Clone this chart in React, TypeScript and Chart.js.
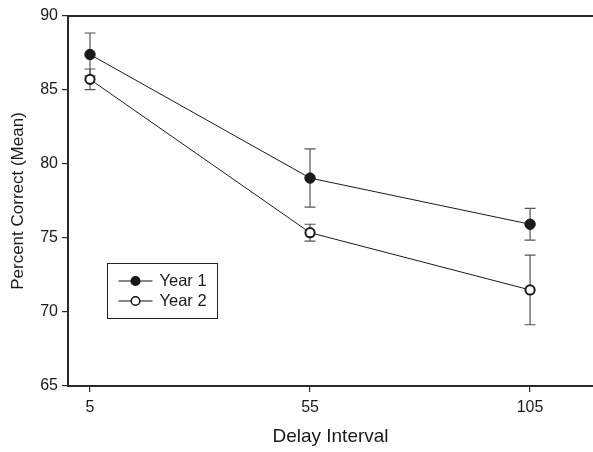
import React, { useEffect, useRef } from "react";
import { Chart, registerables } from "chart.js";

Chart.register(...registerables);

const delays = [5, 55, 105];
const xTickValues = [5, 55, 105];
const yTickValues = [65, 70, 75, 80, 85, 90];
const year1Mean = [87.4, 79.05, 75.93];
const year1Err = [1.45, 1.97, 1.07];
const year2Mean = [85.72, 75.36, 71.49];
const year2Err = [0.7, 0.57, 2.35];
const seriesNames = ["Year 1", "Year 2"];

const FONT = "Arial, 'Liberation Sans', Helvetica, sans-serif";

const errorBarPlugin = {
  id: "errorBars",
  beforeDatasetsDraw(chart: any) {
    const ctx = chart.ctx;
    const xs = chart.scales.x;
    const ys = chart.scales.y;
    const errs = [year1Err, year2Err];
    const means = [year1Mean, year2Mean];
    ctx.save();
    ctx.strokeStyle = "#555";
    ctx.lineWidth = 1.2;
    for (let s = 0; s < 2; s++) {
      for (let i = 0; i < delays.length; i++) {
        const x = xs.getPixelForValue(delays[i]);
        const yt = ys.getPixelForValue(means[s][i] + errs[s][i]);
        const yb = ys.getPixelForValue(means[s][i] - errs[s][i]);
        ctx.beginPath();
        ctx.moveTo(x, yt);
        ctx.lineTo(x, yb);
        ctx.moveTo(x - 5.5, yt);
        ctx.lineTo(x + 5.5, yt);
        ctx.moveTo(x - 5.5, yb);
        ctx.lineTo(x + 5.5, yb);
        ctx.stroke();
      }
    }
    ctx.restore();
  },
  afterDraw(chart: any) {
    const ctx = chart.ctx;
    const a = chart.chartArea;
    ctx.save();
    // top frame line
    ctx.strokeStyle = "#2a2a2a";
    ctx.lineWidth = 2;
    ctx.beginPath();
    ctx.moveTo(a.left, a.top);
    ctx.lineTo(chart.width, a.top);
    ctx.stroke();

    // legend box
    const bx = a.left + 39.5;
    const by = a.top + 247.5;
    const bw = 110;
    const bh = 55;
    ctx.lineWidth = 1;
    ctx.strokeStyle = "#222";
    ctx.fillStyle = "#fff";
    ctx.fillRect(bx, by, bw, bh);
    ctx.strokeRect(bx, by, bw, bh);
    const rows = [by + 17.5, by + 37.5];
    for (let k = 0; k < 2; k++) {
      const y = rows[k];
      ctx.strokeStyle = "#111";
      ctx.lineWidth = 1;
      ctx.beginPath();
      ctx.moveTo(bx + 11, y);
      ctx.lineTo(bx + 45, y);
      ctx.stroke();
      ctx.beginPath();
      ctx.arc(bx + 28, y, 4.3, 0, Math.PI * 2);
      ctx.fillStyle = k === 0 ? "#1a1a1a" : "#fff";
      ctx.fill();
      ctx.lineWidth = 1.5;
      ctx.stroke();
      ctx.fillStyle = "#1a1a1a";
      ctx.font = `16.5px ${FONT}`;
      ctx.textBaseline = "middle";
      ctx.textAlign = "left";
      ctx.fillText(seriesNames[k], bx + 52, y + 0.5);
    }
    ctx.restore();
  },
};

export default function App() {
  const ref = useRef<HTMLCanvasElement | null>(null);

  useEffect(() => {
    document.body.style.margin = "0";
    const canvas = ref.current!;
    const chart = new Chart(canvas, {
      type: "line",
      data: {
        datasets: [
          {
            label: seriesNames[0],
            data: delays.map((d, i) => ({ x: d, y: year1Mean[i] })),
            borderColor: "#1a1a1a",
            borderWidth: 1,
            pointRadius: 5.2,
            pointBackgroundColor: "#1a1a1a",
            pointBorderColor: "#1a1a1a",
            pointBorderWidth: 1,
            tension: 0,
          },
          {
            label: seriesNames[1],
            data: delays.map((d, i) => ({ x: d, y: year2Mean[i] })),
            borderColor: "#1a1a1a",
            borderWidth: 1,
            pointRadius: 4.6,
            pointBackgroundColor: "#fff",
            pointBorderColor: "#1a1a1a",
            pointBorderWidth: 2,
            tension: 0,
          },
        ],
      },
      options: {
        animation: false,
        responsive: false,
        maintainAspectRatio: false,
        layout: { autoPadding: false, padding: { top: 16, right: 0, left: 0, bottom: 0 } },
        plugins: {
          legend: { display: false },
          tooltip: { enabled: false },
        },
        scales: {
          x: {
            type: "linear",
            min: 0,
            max: 119.3,
            afterBuildTicks: (scale: any) => {
              scale.ticks = xTickValues.map((v) => ({ value: v }));
            },
            afterFit: (scale: any) => {
              scale.height = 66;
              scale.paddingRight = 0;
              scale.paddingLeft = 0;
            },
            grid: {
              display: true,
              drawOnChartArea: false,
              drawTicks: true,
              tickLength: 6,
              color: "#2a2a2a",
              lineWidth: 1.2,
            },
            border: { display: true, color: "#2a2a2a", width: 2 },
            ticks: {
              color: "#1a1a1a",
              font: { family: FONT, size: 16 },
              padding: 6,
              maxRotation: 0,
              autoSkip: false,
            },
            title: {
              display: true,
              text: "Delay Interval",
              color: "#1a1a1a",
              font: { family: FONT, size: 19 },
              padding: { top: 4, bottom: 4 },
            },
          },
          y: {
            type: "linear",
            min: 65,
            max: 90,
            afterBuildTicks: (scale: any) => {
              scale.ticks = yTickValues.map((v) => ({ value: v }));
            },
            afterFit: (scale: any) => {
              scale.width = 68;
              scale.paddingTop = 0;
              scale.paddingBottom = 0;
            },
            grid: {
              display: true,
              drawOnChartArea: false,
              drawTicks: true,
              tickLength: 6,
              color: "#2a2a2a",
              lineWidth: 1.2,
            },
            border: { display: true, color: "#2a2a2a", width: 2 },
            ticks: {
              color: "#1a1a1a",
              font: { family: FONT, size: 16 },
              padding: 4,
            },
            title: {
              display: true,
              text: "Percent Correct (Mean)",
              color: "#1a1a1a",
              font: { family: FONT, size: 17 },
              padding: { top: 8, bottom: 8 },
            },
          },
        },
      },
      plugins: [errorBarPlugin],
    });
    return () => chart.destroy();
  }, []);

  return (
    <div style={{ position: "absolute", left: 0, top: 0, width: 593, height: 452 }}>
      <canvas ref={ref} width={593} height={452} style={{ width: 593, height: 452 }} />
    </div>
  );
}
